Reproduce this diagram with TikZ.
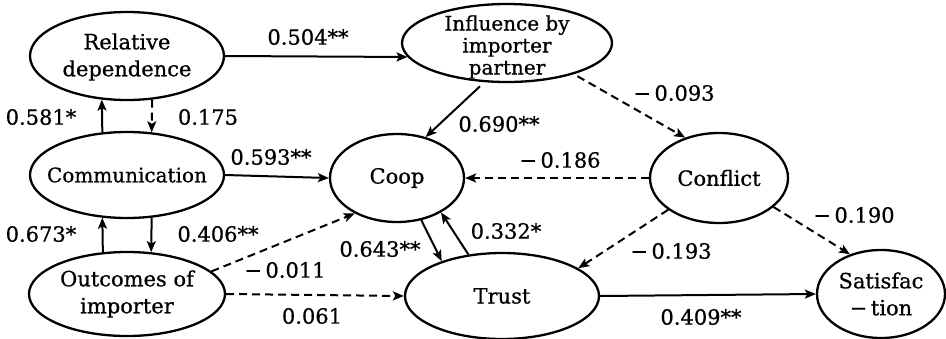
\documentclass[tikz,border=0pt]{standalone}
\usepackage{fontspec}
\setmainfont{DejaVu Serif}
\newfontfamily\schfont{DejaVu Serif}[FakeBold=0.7]
\usetikzlibrary{shapes.geometric,arrows.meta}
\begin{document}
\begin{tikzpicture}[x=1pt,y=-1pt,
  lat/.style={ellipse,draw,line width=2.3pt,inner sep=0pt},
  txt/.style={align=center,inner sep=0pt,font=\schfont\fontsize{21}{27}\selectfont},
  arr/.style={line width=2pt,-{Stealth[length=11pt,width=9pt,inset=2.5pt]}},
  dsh/.style={arr,dash pattern=on 8pt off 5pt},
  lbl/.style={font=\schfont\fontsize{21}{24}\selectfont,inner sep=0pt}]
\useasboundingbox (0,0) rectangle (946,338);
% ellipses
\node[lat,minimum width=194pt,minimum height=88pt] (rd) at (127,56) {};
\node[lat,minimum width=210pt,minimum height=78pt] (inf) at (507,43) {};
\node[lat,minimum width=194pt,minimum height=86pt] (comm) at (127,175) {};
\node[lat,minimum width=134pt,minimum height=88pt] (coop) at (397,178) {};
\node[lat,minimum width=138pt,minimum height=90pt] (conf) at (719,178) {};
\node[lat,minimum width=196pt,minimum height=84pt] (out) at (127,294) {};
\node[lat,minimum width=194pt,minimum height=86pt] (trust) at (502,296) {};
\node[lat,minimum width=128pt,minimum height=88pt] (sat) at (881,294) {};
% texts
\node[txt] (rdt) at (127,57) {Relative\\dependence};
\node[txt,font=\schfont\fontsize{20}{22}\selectfont] (inft) at (507,47) {Influence by\\importer\\partner};
\node[txt,font=\schfont\fontsize{20}{24}\selectfont] (commt) at (127,175) {Communication};
\node[txt] (coopt) at (397,178) {Coop};
\node[txt] (conft) at (719,178) {Conflict};
\node[txt] (outt) at (127,294) {Outcomes of\\importer};
\node[txt] (trustt) at (502,296) {Trust};
\node[txt] (satt) at (881,294) {Satisfac\\−\,tion};
% connectors
\draw[arr] (rd.east) -- (inf.188);
\draw[arr] (comm.120) -- (rd.240);
\draw[dsh] (rd.300) -- (comm.60);
\draw[arr] (out.120) -- (comm.240);
\draw[arr] (comm.300) -- (out.60);
\draw[arr] (comm.east) -- (coop.west);
\draw[dsh] (out.15) -- (coop.220);
\draw[dsh] (out.east) -- (trust.west);
\draw[arr,shorten <=6pt] (inf.240) -- (coop.55);
\draw[dsh,shorten <=4pt] (inf.335) -- (conf.130);
\draw[dsh] (conf.west) -- (coop.east);
\draw[arr] (coop.300) -- (trust.150);
\draw[arr] (trust.129) -- (coop.322);
\draw[dsh] (conf.212) -- (trust.20);
\draw[dsh] (conf.332) -- (sat.128);
\draw[arr] (trust.east) -- (sat.west);
% labels
\node[lbl] (l1) at (308,37) {0.504**};
\node[lbl] (l2) at (41,117) {0.581*};
\node[lbl] (l3) at (208,117) {0.175};
\node[lbl] (l4) at (271,157) {0.593**};
\node[lbl] (l5) at (499,124) {0.690**};
\node[lbl] (l6) at (674,93) {−\,0.093};
\node[lbl] (l7) at (560,160) {−\,0.186};
\node[lbl] (l8) at (41,234) {0.673*};
\node[lbl] (l9) at (218,234) {0.406**};
\node[lbl] (l10) at (380,249) {0.643**};
\node[lbl] (l11) at (285,270) {−\,0.011};
\node[lbl] (l12) at (312,316) {0.061};
\node[lbl] (l13) at (506,231) {0.332*};
\node[lbl] (l14) at (671,251) {−\,0.193};
\node[lbl] (l15) at (854,215) {−\,0.190};
\node[lbl] (l16) at (701,317) {0.409**};
\end{tikzpicture}
\end{document}
